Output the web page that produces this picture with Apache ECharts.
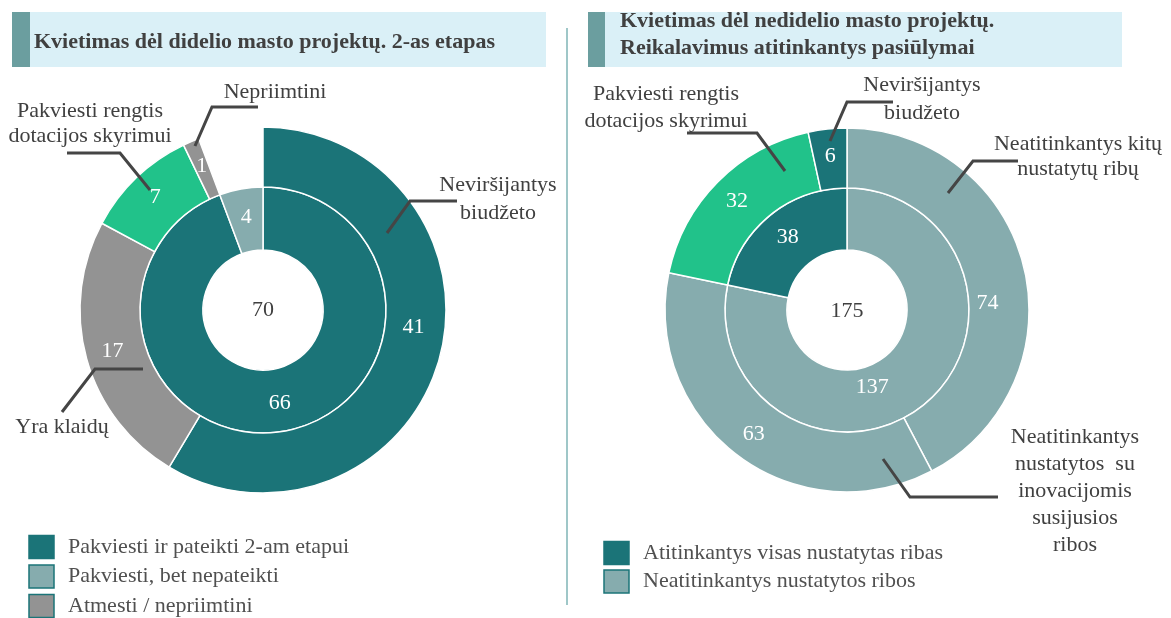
<!DOCTYPE html>
<html>
<head>
<meta charset="utf-8">
<script src="https://cdn.jsdelivr.net/npm/echarts@6/dist/echarts.min.js"></script>
<style>
  html, body { margin: 0; padding: 0; background: #fff; }
  #chart { width: 1171px; height: 618px; }
</style>
</head>
<body>
<div id="chart"></div>
<script>
// kairė: didelio masto projektai
const leftInnerNames = ['Pakviesti ir pateikti 2-am etapui', 'Pakviesti, bet nepateikti']
const leftInnerValues = [66, 4]
const leftOuterNames = ['Neviršijantys biudžeto', 'Yra klaidų', 'Pakviesti rengtis dotacijos skyrimui', 'Nepriimtini', '']
const leftOuterValues = [41, 17, 7, 1, 4]

// dešinė: nedidelio masto projektai
const rightInnerNames = ['Neatitinkantys nustatytos ribos', 'Atitinkantys visas nustatytas ribas']
const rightInnerValues = [137, 38]
const rightOuterNames = ['Neatitinkantys kitų nustatytų ribų', 'Neatitinkantys nustatytos su inovacijomis susijusios ribos', 'Pakviesti rengtis dotacijos skyrimui', 'Neviršijantys biudžeto']
const rightOuterValues = [74, 63, 32, 6]

const leftLegend = ['Pakviesti ir pateikti 2-am etapui', 'Pakviesti, bet nepateikti', 'Atmesti / nepriimtini']
const rightLegend = ['Atitinkantys visas nustatytas ribas', 'Neatitinkantys nustatytos ribos']

const DARK = '#1b7478'
const LIGHT = '#86acae'
const GREY = '#939393'
const GREEN = '#21c28a'
const TXT = '#404040'
const FONT = '"Liberation Serif", "Times New Roman", serif'

const leftInnerColors = [DARK, LIGHT]
const leftOuterColors = [DARK, GREY, GREEN, GREY, 'rgba(0,0,0,0)']
const rightInnerColors = [LIGHT, DARK]
const rightOuterColors = [LIGHT, LIGHT, GREEN, DARK]

const chart = echarts.init(document.getElementById('chart'))

function ring(center, radius, names, values, colors, shift) {
  return {
    type: 'pie',
    center: center,
    radius: radius,
    startAngle: 90,
    silent: true,
    avoidLabelOverlap: false,
    emphasis: { disabled: true },
    label: {
      show: true,
      position: 'inside',
      formatter: '{c}',
      color: '#fff',
      fontSize: 22,
      fontFamily: FONT
    },
    labelLine: { show: false },
    labelLayout(p) {
      return (shift && shift[p.dataIndex]) || {}
    },
    itemStyle: { borderColor: '#fff', borderWidth: 1.5 },
    data: values.map((v, i) => {
      const item = { name: names[i], value: v, itemStyle: { color: colors[i] } }
      if (!names[i]) {
        item.itemStyle.borderWidth = 0
        item.label = { show: false }
      }
      return item
    })
  }
}

function txt(x, y, text, opt) {
  return {
    type: 'text',
    x: x,
    y: y,
    z: 100,
    silent: true,
    style: Object.assign({
      text: text,
      fill: TXT,
      fontSize: 22,
      fontFamily: FONT,
      align: 'center',
      verticalAlign: 'middle',
      lineHeight: 26
    }, opt || {})
  }
}

function leader(points) {
  return {
    type: 'polyline',
    z: 100,
    silent: true,
    shape: { points: points },
    style: { stroke: '#454545', lineWidth: 3, fill: null }
  }
}

function legendRows(x, y0, step, names, colors) {
  const out = []
  names.forEach((n, i) => {
    out.push({
      type: 'rect',
      silent: true,
      shape: { x: x, y: y0 + i * step - 11.5, width: 25, height: 23 },
      style: { fill: colors[i], stroke: DARK, lineWidth: 1.5 }
    })
    out.push(txt(x + 39, y0 + i * step, n, { align: 'left', fill: '#505050' }))
  })
  return out
}

const sum = a => a.reduce((s, v) => s + v, 0)

const graphic = [
  // antraštės
  { type: 'rect', silent: true, shape: { x: 12, y: 12, width: 534, height: 55 }, style: { fill: '#daf0f7' } },
  { type: 'rect', silent: true, shape: { x: 12, y: 12, width: 18, height: 55 }, style: { fill: '#6b9e9f' } },
  txt(34, 42, 'Kvietimas dėl didelio masto projektų. 2-as etapas', { align: 'left', fontWeight: 'bold' }),
  { type: 'rect', silent: true, shape: { x: 588, y: 12, width: 534, height: 55 }, style: { fill: '#daf0f7' } },
  { type: 'rect', silent: true, shape: { x: 588, y: 12, width: 17, height: 55 }, style: { fill: '#6b9e9f' } },
  txt(620, 35, 'Kvietimas dėl nedidelio masto projektų.\nReikalavimus atitinkantys pasiūlymai', { align: 'left', fontWeight: 'bold', lineHeight: 27 }),
  // skirtukas
  { type: 'line', silent: true, shape: { x1: 567, y1: 28, x2: 567, y2: 605 }, style: { stroke: '#7fb4b6', lineWidth: 1.5 } },
  // sumos centre
  txt(263, 310, String(sum(leftInnerValues))),
  txt(847, 311, String(sum(rightInnerValues))),
  // kairės paaiškinimai
  txt(275, 92, 'Nepriimtini'),
  leader([[195, 146], [212, 107], [258, 107]]),
  txt(498, 199, 'Neviršijantys\nbiudžeto', { lineHeight: 28 }),
  leader([[387, 233], [410, 201], [457, 201]]),
  txt(90, 124, 'Pakviesti rengtis\ndotacijos skyrimui', { lineHeight: 25 }),
  leader([[67, 153], [120, 153], [150, 190]]),
  txt(62, 427, 'Yra klaidų'),
  leader([[143, 369], [95, 369], [62, 412]]),
  // dešinės paaiškinimai
  txt(666, 108, 'Pakviesti rengtis\ndotacijos skyrimui', { lineHeight: 27 }),
  leader([[687, 133], [757, 133], [785, 171]]),
  txt(922, 99, 'Neviršijantys\nbiudžeto', { lineHeight: 28 }),
  leader([[830, 141], [847, 102], [893, 102]]),
  txt(1078, 157, 'Neatitinkantys kitų\nnustatytų ribų', { lineHeight: 25 }),
  leader([[948, 193], [973, 161], [1018, 161]]),
  txt(1075, 491, 'Neatitinkantys\nnustatytos  su\ninovacijomis\nsusijusios\nribos', { lineHeight: 27 }),
  leader([[883, 459], [910, 497], [998, 497]])
]
  .concat(legendRows(29, 547, 29.5, leftLegend, [DARK, LIGHT, GREY]))
  .concat(legendRows(604, 553, 28.5, rightLegend, [DARK, LIGHT]))

chart.setOption({
  animation: false,
  backgroundColor: '#fff',
  series: [
    ring([263, 310], [60, 123], leftInnerNames, leftInnerValues, leftInnerColors),
    ring([263, 310], [123, 183], leftOuterNames, leftOuterValues, leftOuterColors, { 0: { dy: -24 } }),
    ring([847, 310], [60, 122], rightInnerNames, rightInnerValues, rightInnerColors, { 0: { dx: -34, dy: 4 } }),
    ring([847, 310], [122, 182], rightOuterNames, rightOuterValues, rightOuterColors, { 0: { dx: -10, dy: 30 } })
  ],
  graphic: graphic
})
</script>
</body>
</html>
